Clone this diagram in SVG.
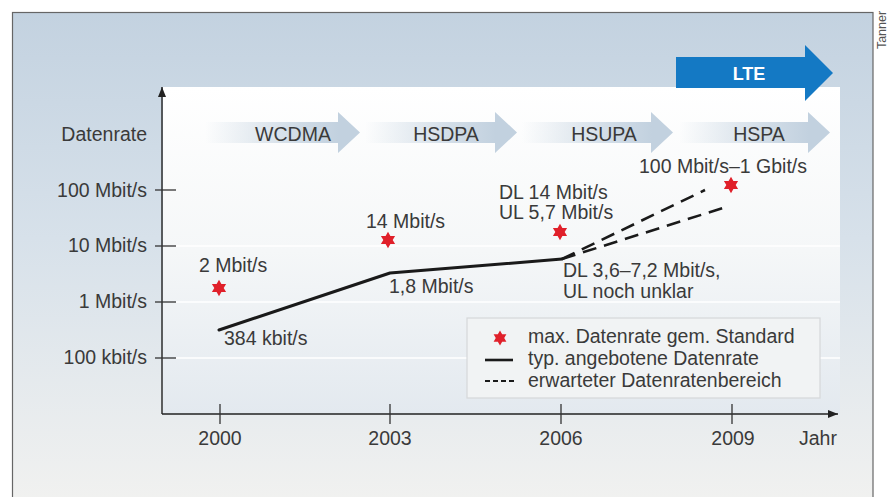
<svg xmlns="http://www.w3.org/2000/svg" xmlns:xlink="http://www.w3.org/1999/xlink" width="890" height="497" viewBox="0 0 890 497">
  <defs>
    <linearGradient id="bgGrad" x1="0" y1="0" x2="0" y2="1">
      <stop offset="0" stop-color="#c3d2e0"/>
      <stop offset="0.45" stop-color="#d7e1ea"/>
      <stop offset="1" stop-color="#f2f2f0"/>
    </linearGradient>
    <linearGradient id="panelGrad" x1="0" y1="0" x2="0" y2="1">
      <stop offset="0" stop-color="#ffffff"/>
      <stop offset="0.5" stop-color="#f5f7f8"/>
      <stop offset="1" stop-color="#e3e9ef"/>
    </linearGradient>
    <linearGradient id="techGrad" x1="0" y1="0" x2="1" y2="0">
      <stop offset="0" stop-color="#c2d1df" stop-opacity="0"/>
      <stop offset="0.55" stop-color="#c2d1df" stop-opacity="0.7"/>
      <stop offset="0.86" stop-color="#c2d1df" stop-opacity="1"/>
      <stop offset="1" stop-color="#c2d1df" stop-opacity="1"/>
    </linearGradient>
    <path id="star" d="M0,-8.2 L2.4,-4.1 L7.1,-4.1 L4.7,0 L7.1,4.1 L2.4,4.1 L0,8.2 L-2.4,4.1 L-7.1,4.1 L-4.7,0 L-7.1,-4.1 L-2.4,-4.1 Z"/>
    <marker id="axArrow" viewBox="0 0 10 8" refX="10" refY="4" markerWidth="10" markerHeight="8" markerUnits="userSpaceOnUse" orient="auto">
      <path d="M0,0 L10,4 L0,8 Z" fill="#222"/>
    </marker>
  </defs>
  <style>
    text { font-family: "Liberation Sans", Arial, Helvetica, sans-serif; font-size: 19.5px; fill: #3a3a3a; }
    .end { text-anchor: end; }
    .mid { text-anchor: middle; }
    .tech { fill: url(#techGrad); }
    .axis { stroke: #222; stroke-width: 1.4; fill: none; }
    .tick { stroke: #333; stroke-width: 1.3; }
    .grid { stroke: #ffffff; stroke-width: 1.5; }
    .star { fill: #e0202a; }
    .solid { stroke: #1a1a1a; stroke-width: 3; fill: none; stroke-linejoin: round; stroke-linecap: round; }
    .dash { stroke: #1a1a1a; stroke-width: 2.6; fill: none; stroke-dasharray: 14 8; }
  </style>

  <!-- background frame -->
  <g id="frame">
    <rect x="12.5" y="12.5" width="860.5" height="500" fill="url(#bgGrad)" stroke="#666" stroke-width="1.2"/>
    <text transform="translate(886,30) rotate(-90)" class="mid" style="font-size:12.5px; fill:#555">Tanner</text>
  </g>

  <!-- plot panel -->
  <g id="panel">
    <rect x="163" y="87" width="677" height="327" fill="url(#panelGrad)"/>
    <line class="grid" x1="176" y1="246" x2="840" y2="246"/>
    <line class="grid" x1="176" y1="302" x2="840" y2="302"/>
    <line class="grid" x1="176" y1="358" x2="840" y2="358"/>
  </g>

  <!-- technology arrows -->
  <g id="tech-wcdma">
    <path class="tech" d="M205,122 H338 V112 L360,132.5 L338,153 V143 H205 Z"/>
    <text x="293" y="141" class="mid">WCDMA</text>
  </g>
  <g id="tech-hsdpa">
    <path class="tech" d="M365,122 H495 V112 L517,132.5 L495,153 V143 H365 Z"/>
    <text x="446" y="141" class="mid">HSDPA</text>
  </g>
  <g id="tech-hsupa">
    <path class="tech" d="M522,122 H651 V112 L673,132.5 L651,153 V143 H522 Z"/>
    <text x="604" y="141" class="mid">HSUPA</text>
  </g>
  <g id="tech-hspa">
    <path class="tech" d="M679,122 H808 V112 L830,132.5 L808,153 V143 H679 Z"/>
    <text x="759" y="141" class="mid">HSPA</text>
  </g>
  <g id="tech-lte">
    <path d="M676,57 H805 V45 L833,73 L805,101 V88 H676 Z" fill="#1479c4"/>
    <text x="749" y="80" class="mid" style="fill:#ffffff; font-weight:bold; font-size:18px">LTE</text>
  </g>

  <!-- axes -->
  <g id="axes">
    <line class="axis" x1="162" y1="414" x2="162" y2="87" marker-end="url(#axArrow)"/>
    <line class="axis" x1="162" y1="414" x2="838" y2="414" marker-end="url(#axArrow)"/>
    <line class="tick" x1="155" y1="190" x2="176" y2="190"/>
    <line class="tick" x1="155" y1="246" x2="176" y2="246"/>
    <line class="tick" x1="155" y1="302" x2="176" y2="302"/>
    <line class="tick" x1="155" y1="358" x2="176" y2="358"/>
    <line class="tick" x1="220" y1="404" x2="220" y2="424"/>
    <line class="tick" x1="390" y1="404" x2="390" y2="424"/>
    <line class="tick" x1="561" y1="404" x2="561" y2="424"/>
    <line class="tick" x1="732" y1="404" x2="732" y2="424"/>
    <text x="147" y="141" class="end">Datenrate</text>
    <text x="147" y="197" class="end">100 Mbit/s</text>
    <text x="147" y="252" class="end">10 Mbit/s</text>
    <text x="147" y="308" class="end">1 Mbit/s</text>
    <text x="147" y="364" class="end">100 kbit/s</text>
    <text x="220" y="445" class="mid">2000</text>
    <text x="390" y="445" class="mid">2003</text>
    <text x="561" y="445" class="mid">2006</text>
    <text x="733" y="445" class="mid">2009</text>
    <text x="799" y="445">Jahr</text>
  </g>

  <!-- data lines -->
  <g id="connectors">
    <path class="solid" d="M219,330 L390,273 L562,259"/>
    <path class="dash" d="M562,259 L705,190"/>
    <path class="dash" d="M562,259 L726,207"/>
  </g>

  <!-- data points -->
  <g id="point-2000">
    <use href="#star" xlink:href="#star" class="star" x="219" y="288"/>
    <text x="199" y="272">2 Mbit/s</text>
    <text x="224" y="345">384 kbit/s</text>
  </g>
  <g id="point-2003">
    <use href="#star" xlink:href="#star" class="star" x="388" y="240"/>
    <text x="366" y="228">14 Mbit/s</text>
    <text x="389" y="293">1,8 Mbit/s</text>
  </g>
  <g id="point-2006">
    <use href="#star" xlink:href="#star" class="star" x="560" y="232"/>
    <text x="499" y="199">DL 14 Mbit/s</text>
    <text x="499" y="219">UL 5,7 Mbit/s</text>
    <text x="563" y="277">DL 3,6–7,2 Mbit/s,</text>
    <text x="563" y="298">UL noch unklar</text>
  </g>
  <g id="point-2009">
    <use href="#star" xlink:href="#star" class="star" x="731" y="185"/>
    <text x="639" y="173">100 Mbit/s–1 Gbit/s</text>
  </g>

  <!-- legend -->
  <g id="legend">
    <rect x="467" y="318" width="353" height="80" fill="#f1f3f4" stroke="#d6d8d9" stroke-width="1.2"/>
    <use href="#star" xlink:href="#star" class="star" x="500" y="338" transform="translate(500,338) scale(0.9) translate(-500,-338)"/>
    <line x1="485" y1="360" x2="513" y2="360" stroke="#1a1a1a" stroke-width="2.6"/>
    <line x1="485" y1="381" x2="514" y2="381" stroke="#1a1a1a" stroke-width="2" stroke-dasharray="5 3"/>
    <text x="528" y="343">max. Datenrate gem. Standard</text>
    <text x="528" y="365">typ. angebotene Datenrate</text>
    <text x="528" y="387">erwarteter Datenratenbereich</text>
  </g>
</svg>
